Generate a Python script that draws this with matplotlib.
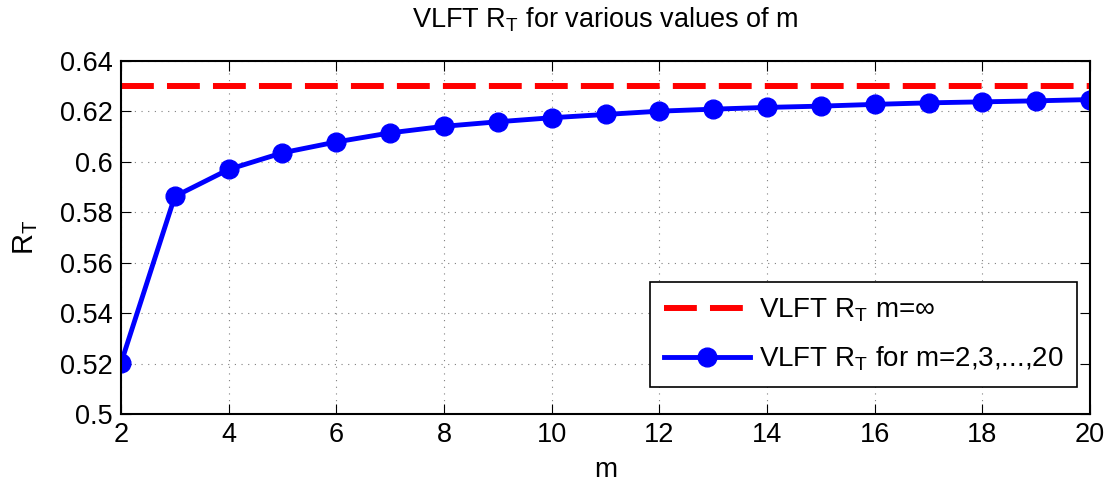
import matplotlib.pyplot as plt

m = [2, 3, 4, 5, 6, 7, 8, 9, 10, 11, 12, 13, 14, 15, 16, 17, 18, 19, 20]
rt = [0.5202, 0.5863, 0.5970, 0.6036, 0.6079, 0.6115, 0.6141, 0.6159, 0.6175, 0.6188,
      0.6201, 0.6209, 0.6216, 0.6221, 0.6228, 0.6234, 0.6238, 0.6242, 0.6247]
rt_inf = 0.6300
xticks = [2, 4, 6, 8, 10, 12, 14, 16, 18, 20]
yticks = [0.5, 0.52, 0.54, 0.56, 0.58, 0.6, 0.62, 0.64]
ytick_labels = ['0.5', '0.52', '0.54', '0.56', '0.58', '0.6', '0.62', '0.64']

plt.rcParams['font.family'] = ['Liberation Sans', 'DejaVu Sans']
plt.rcParams['mathtext.fontset'] = 'custom'
plt.rcParams['mathtext.rm'] = 'Liberation Sans'

fig = plt.figure(figsize=(11.1, 4.86), dpi=100)
ax = fig.add_axes([0.109, 0.148, 0.873, 0.7265])

ax.axhline(rt_inf, color='red', lw=4.3, dashes=(5.5, 2.2),
           label=r'VLFT $\mathregular{R_T}$ m=∞')
ax.plot(m, rt, color='blue', lw=3.5, marker='o', ms=13.5,
        label=r'VLFT $\mathregular{R_T}$ for m=2,3,...,20')

ax.set_xlim(2, 20)
ax.set_ylim(0.5, 0.64)
ax.set_xticks(xticks)
ax.set_yticks(yticks)
ax.set_yticklabels(ytick_labels)
ax.tick_params(direction='in', top=True, right=True, labelsize=19.5, length=7, pad=6)
ax.grid(True, linestyle=(0, (1, 5)), color='gray', lw=0.8)
for s in ax.spines.values():
    s.set_linewidth(1.5)

ax.set_xlabel('m', fontsize=20, labelpad=6)
ax.set_ylabel(r'$\mathregular{R_T}$', fontsize=21, labelpad=14)
ax.set_title(r'VLFT $\mathregular{R_T}$ for various values of m', fontsize=19.5, pad=24)

leg = ax.legend(loc='lower right', fontsize=20, handlelength=3.1, handletextpad=0.3,
                fancybox=False, edgecolor='black', framealpha=1, borderpad=0.5,
                labelspacing=0.75, borderaxespad=0, bbox_to_anchor=(0.9866, 0.0765))
leg.get_frame().set_linewidth(1.2)

fig.savefig('out.png', dpi=100)
